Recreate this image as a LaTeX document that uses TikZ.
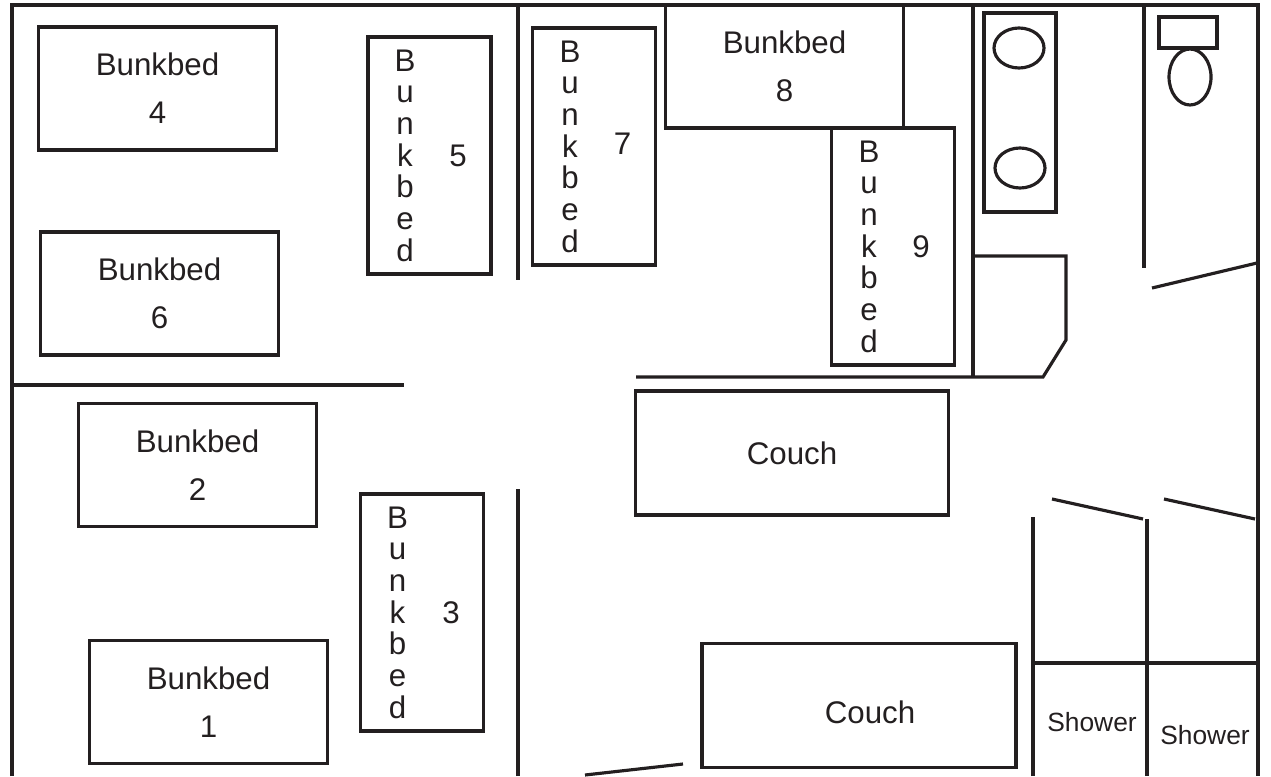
\documentclass[tikz,border=0pt]{standalone}
\usepackage{fontspec}
\setmainfont{Liberation Sans}
\usepackage{tikz}
\definecolor{ink}{RGB}{35,31,32}
\tikzstyle{wall}=[draw=ink,line width=0.9pt]
\tikzstyle{hbed}=[rectangle,draw=ink,line width=0.9pt,minimum width=2.38cm,
minimum height=1.23cm,align=center,text=ink,font=\fontsize{8.9}{9}\selectfont]
\tikzstyle{vbed}=[rectangle,draw=ink,line width=0.9pt,minimum width=1.23cm,
minimum height=2.37cm]
\tikzstyle{couch}=[rectangle,draw=ink,line width=0.9pt,minimum width=3.13cm,
minimum height=1.24cm,text=ink,font=\fontsize{8.9}{9}\selectfont]
\tikzstyle{letters}=[align=center,text=ink,inner sep=0pt,font=\fontsize{8.9}{9}\selectfont]
\tikzstyle{fixture}=[rectangle,draw=ink,line width=0.9pt,inner sep=0pt]
\tikzstyle{basin}=[ellipse,draw=ink,line width=0.9pt,inner sep=0pt]
\usetikzlibrary{positioning,shapes}

\begin{document}
\begin{tikzpicture}
            \useasboundingbox (0,0) rectangle (12.71,7.76);

            % OUTER WALLS

            \draw[wall] (0.12,0) -- (0.12,7.71) -- (12.58,7.71) -- (12.58,0);

            % LEFT ROOM

            \draw[wall] (5.18,7.71) -- (5.18,4.96);
            \draw[wall] (0.12,3.91) -- (4.04,3.91);
            \draw[wall] (5.18,0) -- (5.18,2.87);
            \draw[wall] (5.85,0.01) -- (6.83,0.12);

            \node[hbed] (b4) at (1.575,6.875) {Bunkbed\\[4.6pt]4};
            \node[hbed] (b6) at (1.595,4.825) {Bunkbed\\[4.6pt]6};
            \node[hbed] (b2) at (1.975,3.11) {Bunkbed\\[4.6pt]2};
            \node[hbed] (b1) at (2.085,0.74) {Bunkbed\\[4.6pt]1};

            \node[vbed] (b5) at (4.295,6.205) {};
            \node[letters] (l5) at ([xshift=-2.45mm]b5.center) {B\\u\\n\\k\\b\\e\\d};
            \node[letters] (n5) at ([xshift=2.85mm]b5.center) {5};

            \node[vbed] (b3) at (4.22,1.635) {};
            \node[letters] (l3) at ([xshift=-2.45mm]b3.center) {B\\u\\n\\k\\b\\e\\d};
            \node[letters] (n3) at ([xshift=2.9mm]b3.center) {3};

            % MIDDLE ROOM

            \node[vbed] (b7) at (5.94,6.295) {};
            \node[letters] (l7) at ([xshift=-2.4mm]b7.center) {B\\u\\n\\k\\b\\e\\d};
            \node[letters] (n7) at ([xshift=2.85mm,yshift=0.3mm]b7.center) {7};

            \node[hbed] (b8) at (7.845,7.095) {Bunkbed\\[4.6pt]8};

            \node[vbed] (b9) at (8.93,5.295) {};
            \node[letters] (l9) at ([xshift=-2.4mm]b9.center) {B\\u\\n\\k\\b\\e\\d};
            \node[letters] (n9) at ([xshift=2.8mm]b9.center) {9};

            \node[couch] (c1) at (7.92,3.23) {Couch};
            \node[couch,minimum width=3.14cm] (c2) at (8.59,0.705) {};
            \node[letters] (t2) at ([xshift=1.1mm,yshift=-0.7mm]c2.center) {Couch};

            % BATHROOM

            \draw[wall] (9.73,7.71) -- (9.73,3.99);
            \draw[wall] (6.36,3.99) -- (10.43,3.99) -- (10.66,4.36) -- (10.66,5.20) -- (9.73,5.20);
            \draw[wall] (11.44,7.71) -- (11.44,5.08);
            \draw[wall] (11.52,4.88) -- (12.57,5.13);

            \node[fixture,minimum width=0.72cm,minimum height=1.99cm] (sink) at (10.20,6.635) {};
            \node[basin,minimum width=0.5cm,minimum height=0.4cm] (s1) at (10.19,7.28) {};
            \node[basin,minimum width=0.5cm,minimum height=0.4cm] (s2) at (10.20,6.08) {};

            \node[fixture,minimum width=0.58cm,minimum height=0.31cm] (tank) at (11.88,7.435) {};
            \node[basin,minimum width=0.42cm,minimum height=0.56cm] (bowl) at (11.90,6.99) {};

            % SHOWERS

            \draw[wall] (10.33,0) -- (10.33,2.59);
            \draw[wall] (11.47,0) -- (11.47,2.57);
            \draw[wall] (10.33,1.13) -- (12.58,1.13);
            \draw[wall] (10.52,2.77) -- (11.43,2.57);
            \draw[wall] (11.64,2.77) -- (12.55,2.57);

            \node[letters,font=\fontsize{7.5}{9}\selectfont] (sh1) at (10.92,0.54) {Shower};
            \node[letters,font=\fontsize{7.5}{9}\selectfont] (sh2) at (12.05,0.41) {Shower};

\end{tikzpicture}
\end{document}
